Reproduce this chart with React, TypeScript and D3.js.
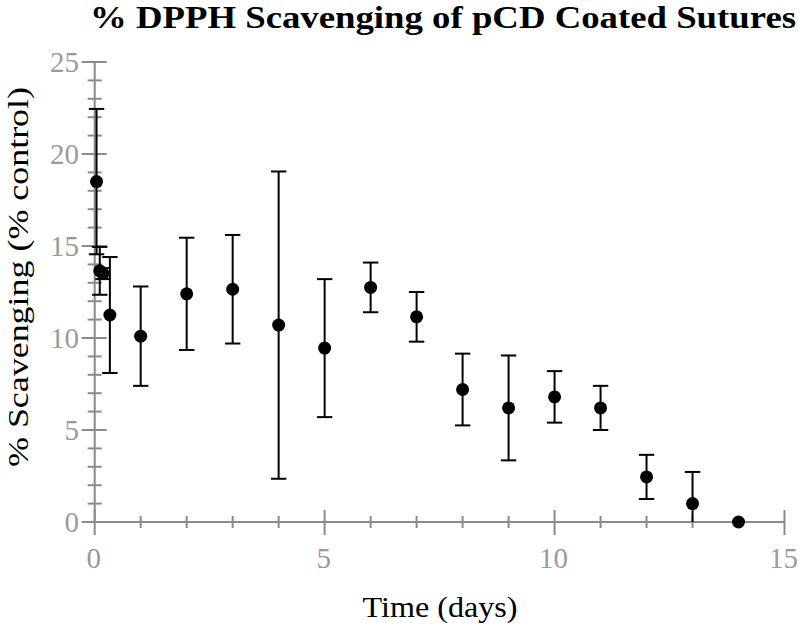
import React from "react";
import * as d3 from "d3";

// Data: time (days), mean % scavenging, error (±)
const times = [0.04, 0.11, 0.18, 0.33, 1, 2, 3, 4, 5, 6, 7, 8, 9, 10, 11, 12, 13, 14];
const means = [18.5, 13.65, 13.5, 11.25, 10.1, 12.4, 12.65, 10.7, 9.45, 12.75, 11.15, 7.2, 6.2, 6.8, 6.2, 2.45, 1.0, 0];
const errors = [3.95, 1.3, 0.3, 3.15, 2.7, 3.05, 2.95, 8.35, 3.75, 1.35, 1.35, 1.95, 2.85, 1.4, 1.2, 1.2, 1.72, 0];

const xMajorTicks = [0, 5, 10, 15];
const yMajorTicks = [0, 5, 10, 15, 20, 25];
const xMinorTicks = [1, 2, 3, 4, 6, 7, 8, 9, 11, 12, 13, 14];
const yMinorTicks = [1, 2, 3, 4, 6, 7, 8, 9, 11, 12, 13, 14, 16, 17, 18, 19, 21, 22, 23, 24];

const titleText = "% DPPH Scavenging of pCD Coated Sutures";
const xLabel = "Time (days)";
const yLabel = "% Scavenging (% control)";

const W = 800;
const H = 634;
const FONT = "Liberation Serif, DejaVu Serif, Times New Roman, serif";
const AXIS = "#8a8a8a";
const LABEL = "#9a9a9a";

export default function App() {
  const x = d3.scaleLinear().domain([0, 15]).range([94.7, 784.5]);
  const y = d3.scaleLinear().domain([0, 25]).range([522, 62]);
  const capW = 7.7;
  const r = 6.5;

  return (
    <svg
      width={W}
      height={H}
      viewBox={`0 0 ${W} ${H}`}
      style={{ position: "absolute", left: 0, top: 0, background: "#fff", fontFamily: FONT }}
    >
      <defs>
        <clipPath id="plotClip">
          <rect x={0} y={y(25) - 20} width={W} height={y(0) - y(25) + 20} />
        </clipPath>
      </defs>
      <rect width={W} height={H} fill="#fff" />

      {/* Title */}
      <text
        x={90}
        y={28}
        style={{ fontFamily: FONT }}
        fontWeight="bold"
        fontSize={31}
        textLength={706}
        lengthAdjust="spacingAndGlyphs"
        fill="#000"
      >
        {titleText}
      </text>

      {/* Axes */}
      <g stroke={AXIS} strokeWidth={2}>
        <line x1={x(0)} x2={x(15)} y1={y(0)} y2={y(0)} />
        <line x1={x(0)} x2={x(0)} y1={y(0)} y2={y(25)} />
        {xMajorTicks.map((t) => (
          <line key={"xM" + t} x1={x(t)} x2={x(t)} y1={y(0) - 12} y2={y(0) + 13} />
        ))}
        {xMinorTicks.map((t) => (
          <line key={"xm" + t} x1={x(t)} x2={x(t)} y1={y(0) - 6} y2={y(0) + 6} />
        ))}
        {yMajorTicks.map((t) => (
          <line key={"yM" + t} x1={x(0) - 13} x2={x(0) + 12} y1={y(t)} y2={y(t)} />
        ))}
        {yMinorTicks.map((t) => (
          <line key={"ym" + t} x1={x(0) - 7} x2={x(0) + 7} y1={y(t)} y2={y(t)} />
        ))}
      </g>

      {/* Tick labels */}
      <g style={{ fontFamily: FONT }} fontSize={29} fill={LABEL}>
        {xMajorTicks.map((t) => (
          <text key={"xl" + t} x={x(t) - 1} y={568} textAnchor="middle">
            {t}
          </text>
        ))}
        {yMajorTicks.map((t) => (
          <text key={"yl" + t} x={79} y={y(t) + 10} textAnchor="end">
            {t}
          </text>
        ))}
      </g>

      {/* Axis titles */}
      <text
        x={440}
        y={617}
        textAnchor="middle"
        style={{ fontFamily: FONT }}
        fontSize={30}
        textLength={155}
        lengthAdjust="spacingAndGlyphs"
        fill="#000"
      >
        {xLabel}
      </text>
      <text
        transform={`translate(28, 277) rotate(-90)`}
        textAnchor="middle"
        style={{ fontFamily: FONT }}
        fontSize={30}
        textLength={380}
        lengthAdjust="spacingAndGlyphs"
        fill="#000"
      >
        {yLabel}
      </text>

      {/* Error bars */}
      <g stroke="#000" strokeWidth={2} clipPath="url(#plotClip)">
        {times.map((t, i) =>
          errors[i] > 0 ? (
            <g key={"e" + i}>
              <line x1={x(t)} x2={x(t)} y1={y(means[i] + errors[i])} y2={y(means[i] - errors[i])} />
              <line
                x1={x(t) - capW}
                x2={x(t) + capW}
                y1={y(means[i] + errors[i])}
                y2={y(means[i] + errors[i])}
              />
              <line
                x1={x(t) - capW}
                x2={x(t) + capW}
                y1={y(means[i] - errors[i])}
                y2={y(means[i] - errors[i])}
              />
            </g>
          ) : null
        )}
      </g>

      {/* Points */}
      <g fill="#000">
        {times.map((t, i) => (
          <circle key={"p" + i} cx={x(t)} cy={y(means[i])} r={r} />
        ))}
      </g>
    </svg>
  );
}
